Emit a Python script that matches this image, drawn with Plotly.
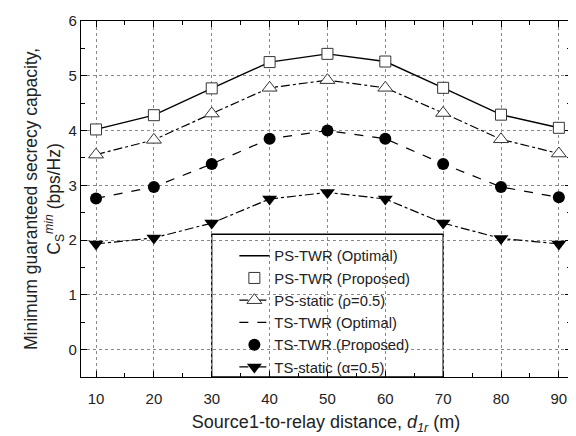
import plotly.graph_objects as go

distance = [10, 20, 30, 40, 50, 60, 70, 80, 90]
ps_twr = [4.02, 4.28, 4.77, 5.25, 5.40, 5.26, 4.78, 4.29, 4.05]
ps_static = [3.56, 3.83, 4.31, 4.78, 4.92, 4.78, 4.32, 3.84, 3.58]
ts_twr = [2.76, 2.97, 3.39, 3.85, 4.00, 3.85, 3.39, 2.97, 2.78]
ts_static = [1.93, 2.04, 2.31, 2.75, 2.87, 2.75, 2.31, 2.03, 1.93]

names = ["PS-TWR (Optimal)", "PS-TWR (Proposed)", "PS-static (ρ=0.5)",
         "TS-TWR (Optimal)", "TS-TWR (Proposed)", "TS-static (α=0.5)"]

FONT = "Liberation Sans, Arial, sans-serif"
blk = "black"
txt = "#222"

fig = go.Figure()
fig.add_trace(go.Scatter(x=distance, y=ps_twr, mode="lines", name=names[0],
                         line=dict(color=blk, width=1.4)))
fig.add_trace(go.Scatter(x=distance, y=ps_twr, mode="markers", name=names[1],
                         marker=dict(symbol="square", size=11, color="white",
                                     line=dict(color="#333", width=1))))
fig.add_trace(go.Scatter(x=distance, y=ps_static, mode="lines+markers", name=names[2],
                         line=dict(color=blk, width=1.2, dash="dashdot"),
                         marker=dict(symbol="triangle-up", size=13, color="white",
                                     line=dict(color="#333", width=1))))
fig.add_trace(go.Scatter(x=distance, y=ts_twr, mode="lines", name=names[3],
                         line=dict(color=blk, width=1.2, dash="dash")))
fig.add_trace(go.Scatter(x=distance, y=ts_twr, mode="markers", name=names[4],
                         marker=dict(symbol="circle", size=12, color=blk)))
fig.add_trace(go.Scatter(x=distance, y=ts_static, mode="lines+markers", name=names[5],
                         line=dict(color=blk, width=1.2, dash="dashdot"),
                         marker=dict(symbol="triangle-down", size=13, color=blk)))

axis_common = dict(
    showline=True, linecolor=blk, linewidth=1.2, mirror="allticks",
    ticks="inside", ticklen=6, tickcolor=blk,
    showgrid=True, gridcolor="#888", griddash="dot", gridwidth=1,
    zeroline=False, ticklabeloverflow="allow",
    tickfont=dict(family=FONT, size=15, color=txt),
)

fig.update_xaxes(range=[7.4, 92.1], tickvals=distance, **axis_common,
                 ticklabelstandoff=8,
                 minor=dict(dtick=5, tick0=0, ticks="inside", ticklen=4, tickcolor=blk, showgrid=False),
                 title=dict(text="Source1-to-relay distance, <i>d</i><sub><i>1r</i></sub> (m)",
                            font=dict(family=FONT, size=18, color=txt),
                            standoff=9))
fig.update_yaxes(range=[-0.5, 6], tickvals=[0, 1, 2, 3, 4, 5, 6], **axis_common,
                 minor=dict(dtick=0.5, tick0=0, ticks="inside", ticklen=4, tickcolor=blk, showgrid=False),
                 title=dict(text="Minimum guaranteed secrecy capacity,<br>C<sub>S</sub><sup><i>min</i></sup> (bps/Hz)",
                            font=dict(family=FONT, size=17.5, color=txt),
                            standoff=3))

# legend frame (white box hiding the grid, drawn under the axis ticks)
fig.add_shape(type="rect", xref="x", yref="paper", x0=30, x1=70, y0=0, y1=0.401,
              line=dict(color=blk, width=1.3), fillcolor="white", layer="between")

fig.update_layout(
    width=568, height=428,
    margin=dict(l=73, r=4, t=5, b=59),
    paper_bgcolor="white", plot_bgcolor="white",
    font=dict(family=FONT, color=txt),
    legend=dict(x=0.313, y=0.386, xanchor="left", yanchor="top",
                bgcolor="rgba(0,0,0,0)", borderwidth=0,
                font=dict(family=FONT, size=14.8, color=txt),
                tracegroupgap=0),
    showlegend=True,
)

fig.write_html("out.html")
